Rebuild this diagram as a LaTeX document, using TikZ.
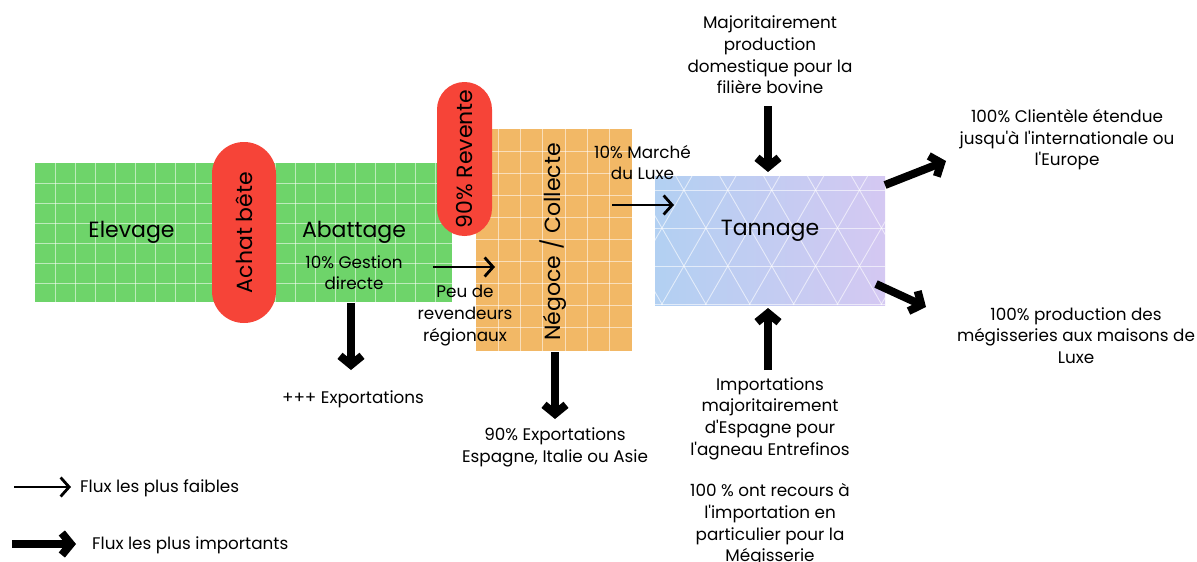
\documentclass[tikz,border=0pt]{standalone}
\usepackage{fontspec}
\setmainfont{Poppins}[Ligatures=TeXOff]
\usetikzlibrary{arrows.meta}

\definecolor{bandgreen}{RGB}{110,212,106}
\definecolor{tradeorange}{RGB}{242,184,102}
\definecolor{pillred}{RGB}{246,68,56}
\definecolor{tanblue}{RGB}{178,208,242}
\definecolor{tanmid}{RGB}{226,235,247}
\definecolor{tanlav}{RGB}{212,200,242}

\tikzset{
  big/.style={font=\fontsize{22}{26}\selectfont, inner sep=0},
  note/.style={font=\fontsize{16.8}{21.6}\selectfont, align=center, inner sep=0},
  pill/.style={fill=pillred, inner sep=0, big, rotate=90},
  gridline/.style={white, opacity=0.55, line width=0.8pt},
  lattice/.style={white, opacity=0.6, line width=0.9pt},
  thin flow/.style={line width=2.8pt, -{Straight Barb[length=8.5pt,width=19pt]}},
  thick flow/.style={line width=8pt, -{Straight Barb[sharp,length=9pt,width=22pt]}},
}

\begin{document}
\begin{tikzpicture}[x=1pt,y=-1pt]
\useasboundingbox (0,0) rectangle (1197,562);

% green band: Elevage / Abattage
\fill[bandgreen] (35,163) rectangle (452,302);
\foreach \x in {55,75,...,435} \draw[gridline] (\x,163) -- (\x,302);
\foreach \y in {183,203,...,283} \draw[gridline] (35,\y) -- (452,\y);

% orange block: Negoce / Collecte
\fill[tradeorange] (476,129) rectangle (632,351);
\foreach \x in {498,520.3,...,625} \draw[gridline] (\x,129) -- (\x,351);
\foreach \y in {151,173,...,345} \draw[gridline] (476,\y) -- (632,\y);

% Tannage panel with a triangle lattice
\shade[left color=tanblue, middle color=tanmid, right color=tanlav] (655,176) rectangle (885,305);
\begin{scope}
  \clip (655,176) rectangle (885,305);
  \foreach \y in {190,228,266,304} \draw[lattice] (655,\y) -- (885,\y);
  \foreach \k in {-3,...,8} {
    \draw[lattice] ({640+\k*43.9+8.1},176) -- ({640+\k*43.9-66.4},305);
    \draw[lattice] ({640+\k*43.9-8.1},176) -- ({640+\k*43.9+66.4},305);
  }
\end{scope}

% red pills
\node[pill, minimum width=181pt, minimum height=64pt, rounded corners=31.9pt] (achat) at (244,232.5) {Achat bête};
\node[pill, minimum width=154pt, minimum height=55pt, rounded corners=27.4pt] (revente) at (464.5,159) {90\% Revente};

% stage labels
\node[big] (elevage) at (131.5,232) {Elevage};
\node[big] (abattage) at (354,232) {Abattage};
\node[note] (gestion) at (354,272.5) {10\% Gestion\\directe};
\node[big, rotate=90] (negoce) at (553,242) {Négoce / Collecte};
\node[big] (tannage) at (770,231) {Tannage};

% side notes
\node[note] (peu) at (465,315.5) {Peu de\\revendeurs\\régionaux};
\node[note] (exportA) at (353,399) {+++ Exportations};
\node[note] (exportB) at (555,447.5) {90\% Exportations\\Espagne, Italie ou Asie};
\node[note] (luxe) at (642.5,162.5) {10\% Marché\\du Luxe};
\node[note] (domestique) at (770,55) {Majoritairement\\production\\domestique pour la\\filière bovine};
\node[note] (import) at (770,418.5) {Importations\\majoritairement\\d'Espagne pour\\l'agneau Entrefinos};
\node[note] (recours) at (770,525) {100 \% ont recours à\\l'importation en\\particulier pour la\\Mégisserie};
\node[note] (clientele) at (1067,140) {100\% Clientèle étendue\\jusqu'à l'internationale ou\\l'Europe};
\node[note] (maisons) at (1076,335.5) {100\% production des\\mégisseries aux maisons de\\Luxe};

% connector end points
\coordinate (abS) at (351,303);
\coordinate (abE) at (351,370);
\coordinate (ngS) at (555,352);
\coordinate (ngE) at (555,419);
\coordinate (peuS) at (433,267);
\coordinate (peuE) at (495,267);
\coordinate (luxS) at (612,205);
\coordinate (luxE) at (674,205);
\coordinate (domS) at (768,106);
\coordinate (domE) at (768,172);
\coordinate (impS) at (768,370);
\coordinate (impE) at (768,308);
\coordinate (cliS) at (885,185);
\coordinate (cliE) at (946,161);
\coordinate (maiS) at (876,284);
\coordinate (maiE) at (926,307);

% flows
\draw[thick flow] (abS) -- (abE);
\draw[thick flow] (ngS) -- (ngE);
\draw[thin flow] (peuS) -- (peuE);
\draw[thin flow] (luxS) -- (luxE);
\draw[thick flow] (domS) -- (domE);
\draw[thick flow] (impS) -- (impE);
\draw[thick flow] (cliS) -- (cliE);
\draw[thick flow] (maiS) -- (maiE);

% legend
\coordinate (lg1S) at (14,487);
\coordinate (lg1E) at (71,487);
\coordinate (lg2S) at (12,544);
\coordinate (lg2E) at (76,544);
\draw[thin flow] (lg1S) -- (lg1E);
\draw[thick flow] (lg2S) -- (lg2E);
\node[note, anchor=west] (leg1) at (80,488) {Flux les plus faibles};
\node[note, anchor=west] (leg2) at (92,545) {Flux les plus importants};
\end{tikzpicture}
\end{document}
